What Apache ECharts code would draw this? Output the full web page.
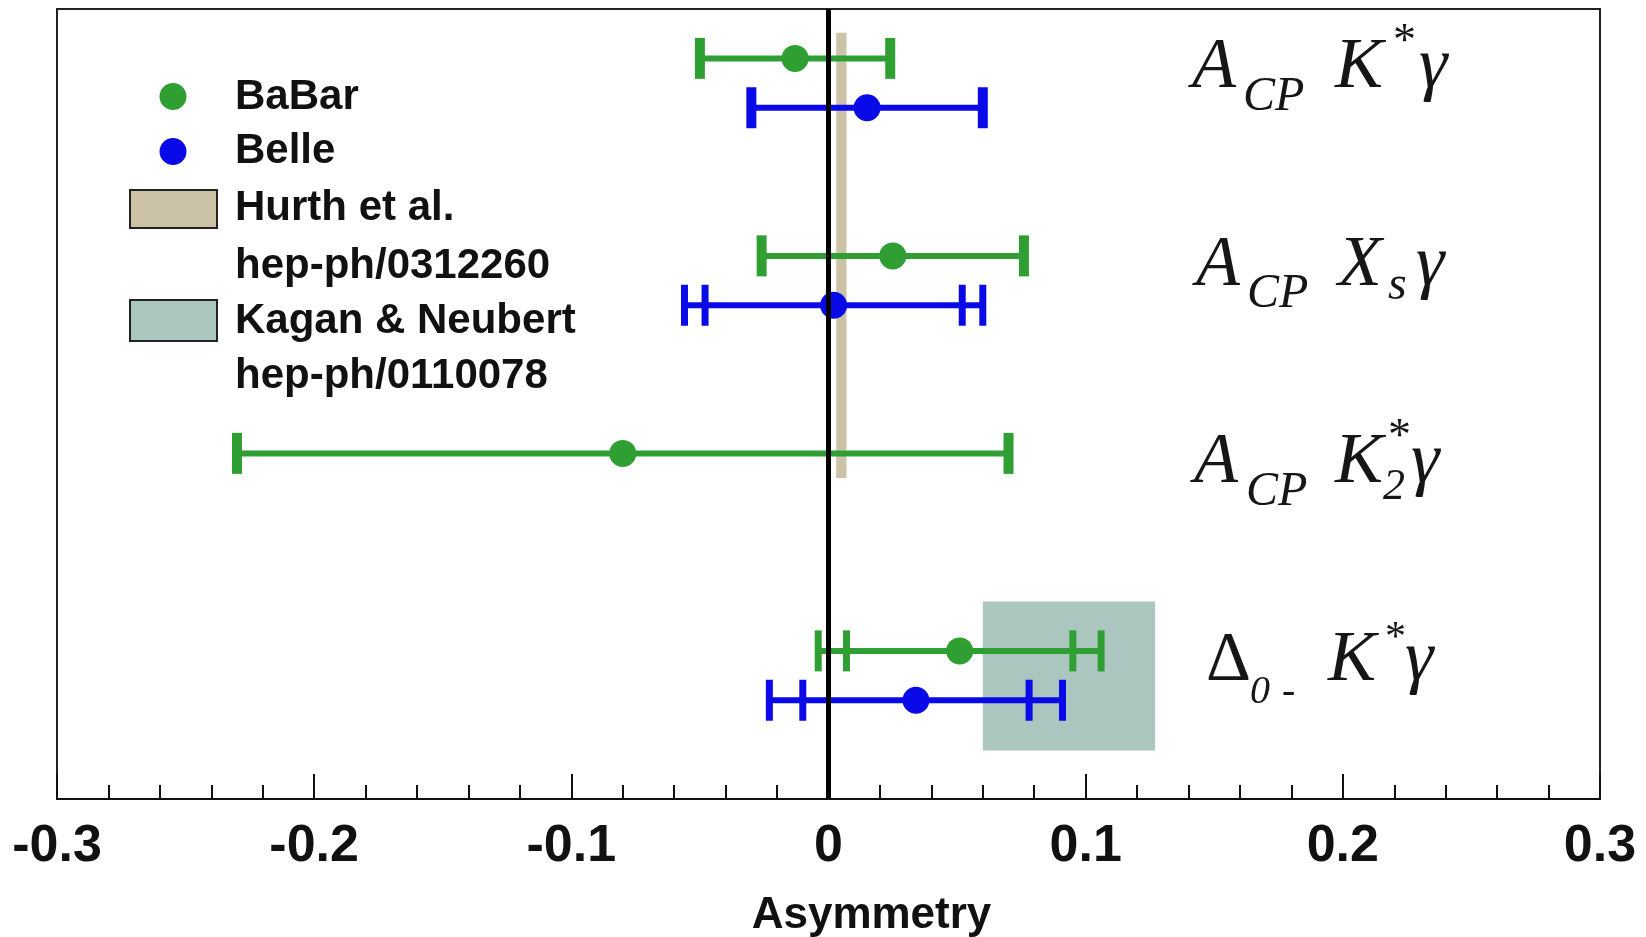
<!DOCTYPE html>
<html>
<head>
<meta charset="utf-8">
<script src="https://cdn.jsdelivr.net/npm/echarts@6/dist/echarts.min.js"></script>
<style>
  html, body { margin: 0; padding: 0; background: #ffffff; }
  #chart { width: 1646px; height: 937px; }
</style>
</head>
<body>
<div id="chart"></div>
<script>
// ---- Measurements (one entry per channel) ----
const channels = ['A_CP K*γ', 'A_CP X_s γ', 'A_CP K2*γ', 'Δ0- K*γ'];
const babarValue = [-0.013, 0.025, -0.080, 0.051];
const babarTotal = [0.037, 0.051, 0.150, 0.055];
const babarStat  = [null, null, null, 0.044];
const belleValue = [0.015, 0.002, null, 0.034];
const belleTotal = [0.045, 0.058, null, 0.057];
const belleStat  = [null, 0.050, null, 0.044];

// ---- Theory predictions: asymmetry range and the channels they cover ----
const hurthRange = [0.003, 0.007];      // Hurth et al., A_CP
const hurthChannels = [0, 2];
const kaganRange = [0.060, 0.127];      // Kagan & Neubert, isospin asymmetry
const kaganChannels = [3, 3];

// ---- Axis ----
const xMin = -0.3, xMax = 0.3, xStep = 0.1;
const xTitle = 'Asymmetry';

// ---- Legend entries ----
const legendNames = ['BaBar', 'Belle', 'Hurth et al.', 'hep-ph/0312260', 'Kagan & Neubert', 'hep-ph/0110078'];

// ---- Channel label fragments ----
const labelText = [
  ['A', 'CP', 'K', '*', 'γ'],
  ['A', 'CP', 'X', 's', 'γ'],
  ['A', 'CP', 'K', '*', '2', 'γ'],
  ['Δ', '0', '-', 'K', '*', 'γ']
];

const GREEN = '#2f9f34';
const BLUE = '#0a0ae8';
const TAN = '#cbc2a8';
const TEAL = '#aac6be';

// each channel occupies two units on the (hidden) vertical axis
const rowBabar = i => 2 * i + 0.5;
const rowBelle = i => 2 * i + 1.0;
const rowLabel = i => 2 * i + 0.8;

// distance from the alphabetic baseline up to the canvas "middle" line, per em
const MID_SERIF = 0.27;
const MID_SANS = 0.28;

function buildRows(values, totals, stats, rowFn) {
  const out = [];
  values.forEach((v, i) => {
    if (v === null) return;
    out.push([v, totals[i], stats[i] === null ? 0 : stats[i], rowFn(i)]);
  });
  return out;
}

function errorBars(color) {
  return function (params, api) {
    const v = api.value(0), tot = api.value(1), stat = api.value(2), y = api.value(3);
    const c = api.coord([v, y]);
    const lo = api.coord([v - tot, y])[0];
    const hi = api.coord([v + tot, y])[0];
    const capH = 41;
    const children = [{
      type: 'line',
      shape: { x1: lo, y1: c[1], x2: hi, y2: c[1] },
      style: { stroke: color, lineWidth: 6 }
    }];
    const caps = [lo, hi];
    let w = 10;
    if (stat > 0) {
      caps.push(api.coord([v - stat, y])[0], api.coord([v + stat, y])[0]);
      w = 7;
    }
    caps.forEach(x => children.push({
      type: 'rect',
      shape: { x: x - w / 2, y: c[1] - capH / 2, width: w, height: capH },
      style: { fill: color }
    }));
    children.push({
      type: 'circle',
      shape: { cx: c[0], cy: c[1], r: 13.5 },
      style: { fill: color }
    });
    return { type: 'group', children: children };
  };
}

// band rectangles: [xLow, xHigh, yTop, yBottom, colour]
const bandData = [
  [hurthRange[0], hurthRange[1], 2 * hurthChannels[0] + 0.24, 2 * hurthChannels[1] + 0.75, TAN],
  [kaganRange[0], kaganRange[1], 2 * kaganChannels[0] + 0.0, 2 * kaganChannels[1] + 1.51, TEAL]
];

// fragment layout: [dx from plot right edge, baseline shift, size, italic]
const fragLayout = [
  [[-408, 0, 72, 1], [-357, 22, 48, 1], [-265, 0, 72, 1], [-207, -33, 46, 0], [-181, 0, 72, 1]],
  [[-404, 0, 72, 1], [-353, 22, 48, 1], [-262, 0, 72, 1], [-212, 14, 48, 1], [-184, 0, 72, 1]],
  [[-406, 0, 72, 1], [-354, 22, 48, 1], [-265, 0, 72, 1], [-212, -33, 46, 0], [-217, 16, 44, 1], [-189, 0, 72, 1]],
  [[-394, 0, 70, 0], [-350, 23, 40, 1], [-318, 23, 40, 1], [-272, 0, 72, 1], [-215, -30, 42, 0], [-195, 0, 72, 1]]
];

function channelLabel(params, api) {
  const i = api.value(0);
  const base = api.coord([xMax, rowLabel(i)]);
  const children = labelText[i].map((t, k) => {
    const L = fragLayout[i][k];
    return {
      type: 'text',
      x: base[0] + L[0],
      y: base[1] + L[1] - MID_SERIF * L[2],
      style: {
        text: t,
        fontFamily: '"Liberation Serif", "Times New Roman", serif',
        fontStyle: L[3] ? 'italic' : 'normal',
        fontSize: L[2],
        fill: '#161616',
        align: 'left',
        verticalAlign: 'middle'
      }
    };
  });
  return { type: 'group', children: children };
}

const SANS = '"Liberation Sans", Arial, sans-serif';
const legendFont = 42;
const legendBaselines = [109, 163, 220, 278, 333, 388];

const graphics = [
  { type: 'circle', shape: { cx: 173, cy: 96.5, r: 13.5 }, style: { fill: GREEN } },
  { type: 'circle', shape: { cx: 173, cy: 151.5, r: 13.5 }, style: { fill: BLUE } },
  { type: 'rect', shape: { x: 130, y: 190, width: 87, height: 38 }, style: { fill: TAN, stroke: '#222', lineWidth: 2 } },
  { type: 'rect', shape: { x: 130, y: 300, width: 87, height: 41 }, style: { fill: TEAL, stroke: '#222', lineWidth: 2 } }
].concat(legendNames.map((n, k) => ({
  type: 'text',
  x: 235,
  y: legendBaselines[k] - MID_SANS * legendFont,
  style: {
    text: n, fontFamily: SANS, fontWeight: 'bold', fontSize: legendFont,
    fill: '#111', align: 'left', verticalAlign: 'middle'
  }
})));

const chart = echarts.init(document.getElementById('chart'));
chart.setOption({
  animation: false,
  backgroundColor: '#ffffff',
  grid: {
    left: 57, right: 46, top: 9, bottom: 138,
    outerBoundsMode: 'none', containLabel: false,
    show: true, borderColor: '#222', borderWidth: 2, backgroundColor: 'transparent'
  },
  xAxis: {
    type: 'value',
    min: xMin, max: xMax, interval: xStep,
    splitLine: { show: false },
    axisLine: { show: true, onZero: false, lineStyle: { color: '#111', width: 2 } },
    axisTick: { show: true, inside: true, length: 25, lineStyle: { color: '#111', width: 2 } },
    minorTick: { show: true, splitNumber: 5, length: 14, lineStyle: { color: '#111', width: 2 } },
    axisLabel: {
      margin: 22, fontFamily: SANS, fontWeight: 'bold', fontSize: 52, color: '#111',
      formatter: v => (Math.abs(v) < 1e-9 ? '0' : String(+v.toFixed(1)))
    },
    name: xTitle,
    nameLocation: 'middle',
    nameGap: 95,
    nameTextStyle: { fontFamily: SANS, fontWeight: 'bold', fontSize: 44, color: '#111', padding: [0, 0, 0, 86] }
  },
  yAxis: { type: 'value', min: 0, max: 8, inverse: true, show: false, splitLine: { show: false } },
  series: [
    {
      name: 'bands', type: 'custom', z: 1, silent: true,
      data: bandData,
      renderItem: (params, api) => {
        const d = bandData[params.dataIndex];
        const p0 = api.coord([api.value(0), api.value(2)]);
        const p1 = api.coord([api.value(1), api.value(3)]);
        return { type: 'rect', shape: { x: p0[0], y: p0[1], width: p1[0] - p0[0], height: p1[1] - p0[1] }, style: { fill: d[4] } };
      },
      encode: { x: [0, 1], y: [2, 3] }
    },
    { name: 'BaBar', type: 'custom', z: 3, data: buildRows(babarValue, babarTotal, babarStat, rowBabar), renderItem: errorBars(GREEN), encode: { x: 0, y: 3 } },
    { name: 'Belle', type: 'custom', z: 3, data: buildRows(belleValue, belleTotal, belleStat, rowBelle), renderItem: errorBars(BLUE), encode: { x: 0, y: 3 } },
    {
      name: 'zero', type: 'custom', z: 5, silent: true, data: [[0]],
      renderItem: (params, api) => {
        const a = api.coord([api.value(0), 0]);
        const b = api.coord([api.value(0), 8]);
        return { type: 'line', shape: { x1: a[0], y1: a[1], x2: b[0], y2: b[1] }, style: { stroke: '#000', lineWidth: 5 } };
      },
      encode: { x: 0 }
    },
    {
      name: 'labels', type: 'custom', z: 4, silent: true, clip: false,
      data: channels.map((c, i) => [i]),
      renderItem: channelLabel,
      encode: { y: 0 }
    }
  ],
  graphic: graphics
});
</script>
</body>
</html>
